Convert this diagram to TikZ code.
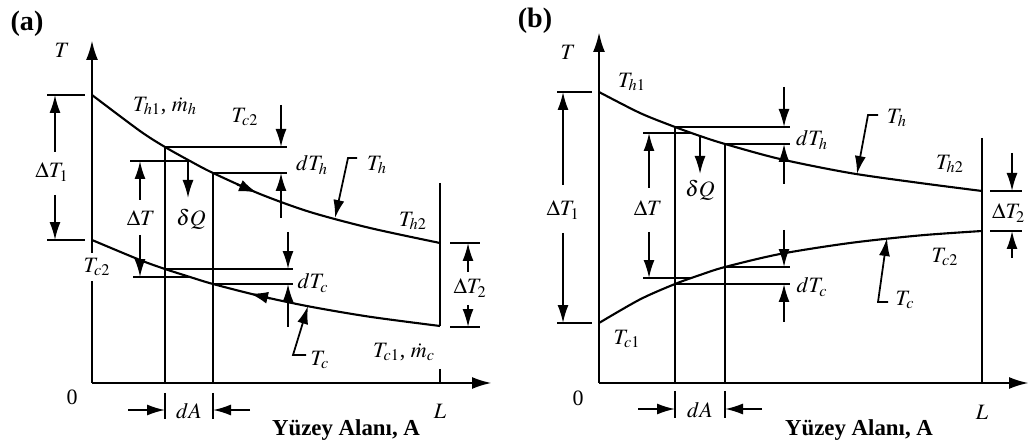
\documentclass[tikz,border=0pt]{standalone}
\usepackage{mathptmx}
\usepackage{fontspec}
\setmainfont{Liberation Serif}
\usetikzlibrary{arrows.meta}

\begin{document}
\begin{tikzpicture}[x=0.02cm, y=-0.02cm,
  every node/.style={font=\fontsize{12.5}{14}\selectfont, inner sep=1pt},
  axisline/.style={line width=1.5pt, -{Latex[length=4mm, width=2.4mm]}},
  curveline/.style={line width=1.2pt},
  guideline/.style={line width=1pt},
  dimarrow/.style={line width=1pt, -{Latex[length=3.6mm, width=2.2mm]}},
  tag/.style={font=\bfseries\fontsize{16}{18}\selectfont},
  axtitle/.style={font=\bfseries\fontsize{13}{15}\selectfont}]
  \useasboundingbox (0,0) rectangle (1030,445);

  % ---------- (a) ----------
  \node[tag] (tagA) at (27,24) {(a)};
  \draw[axisline] (92,383) -- (92,40);
  \draw[axisline] (92,383) -- (492,383);
  \node (labTA) at (62,50) {$T$};
  \node (labOA) at (72,397) {0};
  \node (labLA) at (440,411) {$L$};
  \node[axtitle] (labXA) at (346,430) {Yüzey Alanı, A};

  \coordinate (hA1) at (92,95);
  \coordinate (hAl) at (165,147);
  \coordinate (hAr) at (213,173);
  \coordinate (hA2) at (440,243);
  \coordinate (cA1) at (92,240);
  \coordinate (cAl) at (165,269);
  \coordinate (cAr) at (213,284);
  \coordinate (cA2) at (440,326);
  \draw[curveline] plot[smooth] coordinates {(hA1) (140,131) (hAl) (190,161) (hAr) (260,194) (310,212) (370,228) (hA2)};
  \draw[curveline] plot[smooth] coordinates {(cA1) (140,260) (cAl) (190,277) (cAr) (260,296) (310,306.6) (370,316.8) (cA2)};
  \draw[curveline, -{Latex[length=3.6mm, width=2.4mm]}] (237,184.3) -- (257,192.7);
  \draw[curveline, -{Latex[length=3.6mm, width=2.4mm]}] (270,298.3) -- (250,293.6);
  \draw[curveline] (440,183) -- (cA2);
  \draw[guideline] (440,369) -- (440,383);

  \node[fill=white, inner sep=3pt] (labTc2L) at (97,267) {$T_{c2}$};
  \node (labTh1A) at (165,106) {$T_{h1}$, $\dot m_h$};
  \node (labTc2A) at (245,117) {$T_{c2}$};
  \node (labTh2A) at (413,221) {$T_{h2}$};
  \node (labTc1A) at (404,352) {$T_{c1}$, $\dot m_c$};

  % Delta T_1
  \draw[guideline] (47,95) -- (85,95);
  \draw[guideline] (47,240) -- (85,240);
  \draw[dimarrow] (55,152) -- (55,95);
  \draw[dimarrow] (55,195) -- (55,240);
  \node (labDT1A) at (52,172) {$\Delta T_1$};

  % dA strip
  \draw[guideline] (hAl) -- (165,383);
  \draw[guideline] (hAr) -- (213,383);
  \draw[guideline] (165,393) -- (165,419);
  \draw[guideline] (213,393) -- (213,419);
  \draw[dimarrow] (128,410) -- (165,410);
  \draw[dimarrow] (250,410) -- (213,410);
  \node (labdAA) at (189,411) {$dA$};

  % Delta T and heat
  \draw[guideline] (130,161) -- (190,161);
  \draw[guideline] (133,277) -- (190,277);
  \draw[dimarrow] (140,200) -- (140,161);
  \draw[dimarrow] (140,235) -- (140,277);
  \node (labDTA) at (141,218) {$\Delta T$};
  \draw[dimarrow] (188,161) -- (188,198);
  \node (labdQA) at (191,219) {$\delta Q$};

  % dT_h, dT_c
  \draw[guideline] (hAl) -- (287,147);
  \draw[guideline] (hAr) -- (287,173);
  \draw[dimarrow] (281,105) -- (281,147);
  \draw[dimarrow] (281,218) -- (281,173);
  \node (labdThA) at (312,165) {$dT_h$};
  \draw[guideline] (cAl) -- (293,269);
  \draw[guideline] (cAr) -- (293,284);
  \draw[dimarrow] (288,232) -- (288,269);
  \draw[dimarrow] (288,327) -- (288,284);
  \node (labdTcA) at (313,283) {$dT_c$};

  % leaders
  \node (labThA) at (377,165) {$T_h$};
  \draw[dimarrow] (357,158) -- (348,158) -- (335,218);
  \node (labTcA) at (320,360) {$T_c$};
  \draw[dimarrow] (306,355) -- (293,355) -- (308,306);

  % Delta T_2
  \draw[guideline] (450,243) -- (480,243);
  \draw[guideline] (450,327) -- (480,327);
  \draw[dimarrow] (468,272) -- (468,243);
  \draw[dimarrow] (468,305) -- (468,327);
  \node (labDT2A) at (470,288) {$\Delta T_2$};

  % ---------- (b) ----------
  \node[tag] (tagB) at (535,21) {(b)};
  \draw[axisline] (599,383) -- (599,32);
  \draw[axisline] (599,383) -- (1029,383);
  \node (labTB) at (568,52) {$T$};
  \node (labOB) at (578,398) {0};
  \node (labLB) at (982,412) {$L$};
  \node[axtitle] (labXB) at (859,430) {Yüzey Alanı, A};

  \coordinate (hB1) at (599,92);
  \coordinate (hBl) at (675,127);
  \coordinate (hBr) at (725,144);
  \coordinate (hB2) at (982,191);
  \coordinate (cB1) at (599,323);
  \coordinate (cBl) at (675,284);
  \coordinate (cBr) at (725,267);
  \coordinate (cB2) at (982,231);
  \draw[curveline] plot[smooth] coordinates {(hB1) (640,113) (hBl) (700,136) (hBr) (780,159) (850,173) (920,183) (hB2)};
  \draw[curveline] plot[smooth] coordinates {(cB1) (640,299.4) (cBl) (700,275) (cBr) (780,254) (850,243) (920,235.4) (cB2)};
  \draw[curveline] (982,138) -- (982,383);

  \node (labTh1B) at (632,82) {$T_{h1}$};
  \node (labTh2B) at (950,164) {$T_{h2}$};
  \node (labTc2B) at (945,257) {$T_{c2}$};
  \node (labTc1B) at (627,339) {$T_{c1}$};

  % Delta T_1
  \draw[guideline] (557,92) -- (592,92);
  \draw[guideline] (557,323) -- (592,323);
  \draw[dimarrow] (563,185) -- (563,92);
  \draw[dimarrow] (563,233) -- (563,323);
  \node (labDT1B) at (563,210) {$\Delta T_1$};

  % dA strip
  \draw[guideline] (hBl) -- (675,383);
  \draw[guideline] (hBr) -- (725,383);
  \draw[guideline] (675,391) -- (675,418);
  \draw[guideline] (725,391) -- (725,418);
  \draw[dimarrow] (638,409) -- (675,409);
  \draw[dimarrow] (762,409) -- (725,409);
  \node (labdAB) at (700,410) {$dA$};

  % Delta T and heat
  \draw[guideline] (643,133) -- (691,133);
  \draw[guideline] (643,278) -- (691,278);
  \draw[dimarrow] (649,188) -- (649,133);
  \draw[dimarrow] (649,232) -- (649,278);
  \node (labDTB) at (648,208) {$\Delta T$};
  \draw[dimarrow] (700,137) -- (700,174);
  \node (labdQB) at (700,190) {$\delta Q$};

  % dT_h, dT_c
  \draw[guideline] (hBl) -- (790,127);
  \draw[guideline] (hBr) -- (790,144);
  \draw[dimarrow] (784,87) -- (784,127);
  \draw[dimarrow] (784,184) -- (784,144);
  \node (labdThB) at (812,140) {$dT_h$};
  \draw[guideline] (cBr) -- (790,267);
  \draw[guideline] (cBl) -- (790,284);
  \draw[dimarrow] (784,230) -- (784,267);
  \draw[dimarrow] (784,322) -- (784,284);
  \node (labdTcB) at (812,287) {$dT_c$};

  % leaders
  \node (labThB) at (897,118) {$T_h$};
  \draw[dimarrow] (878,115) -- (868,115) -- (857,174);
  \node (labTcB) at (905,300) {$T_c$};
  \draw[dimarrow] (888,302) -- (878,302) -- (887,238);

  % Delta T_2
  \draw[guideline] (990,191) -- (1022,191);
  \draw[guideline] (990,231) -- (1022,231);
  \draw[dimarrow] (1012,153) -- (1012,191);
  \draw[dimarrow] (1012,258) -- (1012,231);
  \node[anchor=west] (labDT2B) at (990,213) {$\Delta T_2$};
\end{tikzpicture}
\end{document}
